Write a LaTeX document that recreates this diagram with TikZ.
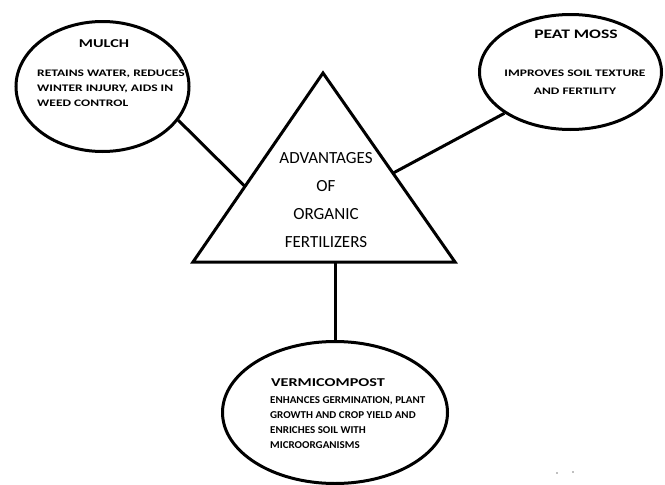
\documentclass[tikz,border=0pt]{standalone}
\usepackage{fontspec}
\setmainfont{Carlito}
\newfontfamily\wideb[FakeStretch=1.35]{Carlito}
\newfontfamily\semiwide[FakeStretch=1.05]{Carlito}
\usetikzlibrary{shapes.geometric,calc}
\begin{document}
\begin{tikzpicture}[x=1pt,y=-1pt,
  bubble/.style={draw, ellipse, line width=3pt, inner sep=0pt},
  link/.style={line width=3pt},
  btitle/.style={font=\wideb\bfseries\fontsize{12}{14}\selectfont, inner sep=0pt},
  body/.style={font=\wideb\bfseries\fontsize{10}{15}\selectfont, inner sep=0pt, align=left},
  vbody/.style={font=\semiwide\bfseries\fontsize{10.5}{15}\selectfont, inner sep=0pt, align=left},
  tritext/.style={font=\fontsize{17}{28}\selectfont, inner sep=0pt, align=center}]
\useasboundingbox (0,0) rectangle (665,485);
% bubbles
\node[bubble, minimum width=173pt, minimum height=130pt] (mulch) at (102.5,86.5) {};
\node[bubble, minimum width=182pt, minimum height=115pt] (peat) at (570.5,72) {};
\node[bubble, minimum width=225pt, minimum height=142pt] (verm) at (335,412.5) {};
% triangle
\coordinate (tl) at (193,262);
\coordinate (tr) at (455,262);
\coordinate (tp) at (323,73);
\draw[line width=3pt, line join=miter] (tl) -- (tp) -- (tr) -- cycle;
\node[tritext] (adv) at (326,200) {ADVANTAGES\\OF\\ORGANIC\\FERTILIZERS};
% connectors
\coordinate (mlink) at ($(tl)!0.40!(tp)$);
\coordinate (plink) at ($(tr)!0.47!(tp)$);
\coordinate (vlink) at (verm.north |- tl);
\draw[link] (mulch.-24) -- (mlink);
\draw[link] (peat.-148) -- (plink);
\draw[link] (vlink) -- (verm.north);
% texts
\node[btitle] (mt) at (104,44) {MULCH};
\node[body, anchor=north west] (mb) at (37,70) {RETAINS WATER, REDUCES\\WINTER INJURY, AIDS IN\\WEED CONTROL};
\node[btitle, font=\wideb\bfseries\fontsize{13}{15}\selectfont] (pt) at (576,34) {PEAT MOSS};
\node[body, align=center] (pb) at (575,82) {IMPROVES SOIL TEXTURE\\[3pt]AND FERTILITY};
\node[btitle] (vt) at (328,383) {VERMICOMPOST};
\node[vbody, anchor=north west] (vb) at (270,396) {ENHANCES GERMINATION, PLANT\\GROWTH AND CROP YIELD AND\\ENRICHES SOIL WITH\\MICROORGANISMS};
% specks
\fill[gray] (557,473) circle (0.8pt);
\fill[gray] (573,472) circle (0.8pt);
\end{tikzpicture}
\end{document}
